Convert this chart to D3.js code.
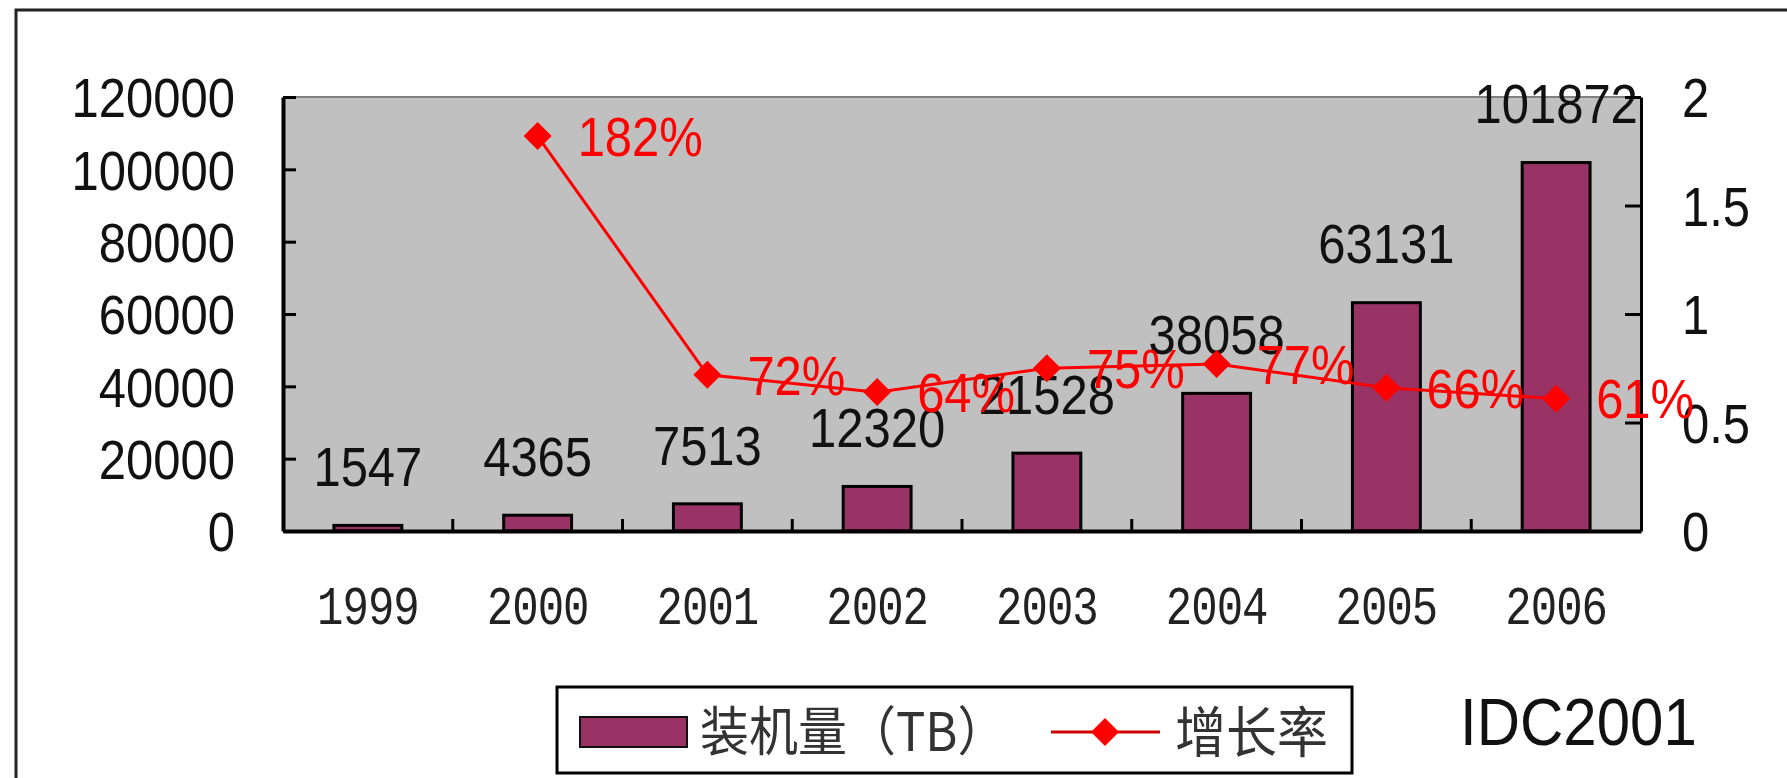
<!DOCTYPE html>
<html>
<head>
<meta charset="utf-8">
<script src="https://cdn.jsdelivr.net/npm/d3@7"></script>
<style>
  body { margin: 0; background: #fff; }
  svg { display: block; }
</style>
</head>
<body>
<svg id="svg1" width="1787" height="778"></svg>
<script>
// data
var years = ["1999", "2000", "2001", "2002", "2003", "2004", "2005", "2006"];
var installed = [1547, 4365, 7513, 12320, 21528, 38058, 63131, 101872];
var growth = [null, 1.82, 0.72, 0.64, 0.75, 0.77, 0.66, 0.61];
var leftTicks = [0, 20000, 40000, 60000, 80000, 100000, 120000];
var rightTicks = [0, 0.5, 1, 1.5, 2];
var legendBar = "装机量（TB）";
var legendLine = "增长率";
var source = "IDC2001";

var svg = d3.select("#svg1");

var plotLeft = 283, plotRight = 1641, plotTop = 97, plotBottom = 531;
var stretch = 1.12;   // the original text is a bit taller than wide
var sansFont = "'Liberation Sans', Arial, Helvetica, sans-serif";

var x = d3.scaleBand()
          .domain(years)
          .range([plotLeft, plotRight])
          .paddingInner(0.6)
          .paddingOuter(0.3);

var yL = d3.scaleLinear().domain([0, 120000]).range([plotBottom, plotTop]);
var yR = d3.scaleLinear().domain([0, 2]).range([plotBottom, plotTop]);

// outer frame
svg.append("rect")
    .attr("x", 16).attr("y", 10)
    .attr("width", 1820).attr("height", 820)
    .attr("fill", "none")
    .attr("stroke", "#222")
    .attr("stroke-width", 3);

// plot area
svg.append("rect")
    .attr("x", plotLeft).attr("y", plotTop)
    .attr("width", plotRight - plotLeft).attr("height", plotBottom - plotTop)
    .attr("fill", "#c0c0c0");

svg.append("line")
    .attr("x1", plotLeft).attr("x2", plotRight)
    .attr("y1", plotTop).attr("y2", plotTop)
    .attr("stroke", "#808080")
    .attr("stroke-width", 2);

// bars
svg.selectAll(".bar")
    .data(installed)
    .enter()
    .append("rect")
      .attr("class", "bar")
      .attr("x", function(d, i) { return x(years[i]); })
      .attr("width", x.bandwidth())
      .attr("y", function(d) { return yL(d); })
      .attr("height", function(d) { return plotBottom - yL(d); })
      .attr("fill", "#993366")
      .attr("stroke", "#000")
      .attr("stroke-width", 3);

// bar value labels
svg.selectAll(".bar-label")
    .data(installed)
    .enter()
    .append("text")
      .attr("class", "bar-label")
      .attr("transform", function(d, i) {
        return "translate(" + (x(years[i]) + x.bandwidth() / 2) + "," + (yL(d) - 59) + ") scale(1," + stretch + ")";
      })
      .attr("dy", "0.36em")
      .attr("text-anchor", "middle")
      .attr("font-family", sansFont)
      .attr("font-size", 49)
      .attr("fill", "#111")
      .text(function(d) { return d; });

// left axis
var axisL = svg.append("g")
    .attr("transform", "translate(" + plotLeft + ",0)")
    .call(d3.axisLeft(yL).tickValues(leftTicks).tickSize(-13).tickSizeOuter(0).tickPadding(48).tickFormat(function(d) { return d; }));

axisL.select(".domain").attr("stroke", "#000").attr("stroke-width", 4);
axisL.selectAll(".tick line").attr("stroke", "#000").attr("stroke-width", 3);
axisL.selectAll(".tick text")
    .attr("font-family", sansFont)
    .attr("font-size", 49)
    .attr("fill", "#111")
    .attr("dy", "0.36em")
    .attr("transform", "scale(1," + stretch + ")");

// right axis
var axisR = svg.append("g")
    .attr("transform", "translate(" + plotRight + ",0)")
    .call(d3.axisRight(yR).tickValues(rightTicks).tickSize(-16).tickSizeOuter(0).tickPadding(41).tickFormat(function(d) { return d; }));

axisR.select(".domain").attr("stroke", "#000").attr("stroke-width", 3);
axisR.selectAll(".tick line").attr("stroke", "#000").attr("stroke-width", 3);
axisR.selectAll(".tick text")
    .attr("font-family", sansFont)
    .attr("font-size", 49)
    .attr("fill", "#111")
    .attr("dy", "0.36em")
    .attr("transform", "scale(1," + stretch + ")");

// bottom axis, labels at the band centres
var axisB = svg.append("g")
    .attr("transform", "translate(0," + plotBottom + ")")
    .call(d3.axisBottom(x).tickSize(0).tickSizeOuter(0));

axisB.select(".domain").attr("stroke", "#000").attr("stroke-width", 4);
axisB.selectAll(".tick text")
    .attr("y", 0)
    .attr("dy", "0.36em")
    .attr("transform", "translate(0,74) scale(1,1.2)")
    .attr("font-family", "'Liberation Mono', 'Courier New', monospace")
    .attr("font-size", 44)
    .attr("letter-spacing", -1)
    .attr("fill", "#222");

// category separators on the bottom axis
svg.selectAll(".sep")
    .data(years.slice(1))
    .enter()
    .append("line")
      .attr("class", "sep")
      .attr("x1", function(d) { return x(d) - x.step() * x.paddingOuter(); })
      .attr("x2", function(d) { return x(d) - x.step() * x.paddingOuter(); })
      .attr("y1", plotBottom)
      .attr("y2", plotBottom - 12)
      .attr("stroke", "#000")
      .attr("stroke-width", 3);

// growth line
var rate = years.map(function(d, i) { return { year: d, v: growth[i] }; })
                .filter(function(d) { return d.v != null; });

var line = d3.line()
    .x(function(d) { return x(d.year) + x.bandwidth() / 2; })
    .y(function(d) { return yR(d.v); });

svg.append("path")
    .datum(rate)
    .attr("d", line)
    .attr("fill", "none")
    .attr("stroke", "#ff0000")
    .attr("stroke-width", 3);

var diamond = "M0,-14L14,0L0,14L-14,0Z";

svg.selectAll(".marker")
    .data(rate)
    .enter()
    .append("path")
      .attr("class", "marker")
      .attr("d", diamond)
      .attr("transform", function(d) {
        return "translate(" + (x(d.year) + x.bandwidth() / 2) + "," + yR(d.v) + ")";
      })
      .attr("fill", "#ff0000");

var pct = d3.format(".0%");

svg.selectAll(".rate-label")
    .data(rate)
    .enter()
    .append("text")
      .attr("class", "rate-label")
      .attr("transform", function(d) {
        return "translate(" + (x(d.year) + x.bandwidth() / 2 + 40) + "," + yR(d.v) + ") scale(1," + stretch + ")";
      })
      .attr("dy", "0.36em")
      .attr("font-family", sansFont)
      .attr("font-size", 49)
      .attr("fill", "#ff0000")
      .text(function(d) { return pct(d.v); });

// legend
var legend = svg.append("g");

legend.append("rect")
    .attr("x", 557).attr("y", 687)
    .attr("width", 795).attr("height", 86)
    .attr("fill", "#fff")
    .attr("stroke", "#000")
    .attr("stroke-width", 3);

legend.append("rect")
    .attr("x", 580).attr("y", 717)
    .attr("width", 107).attr("height", 30)
    .attr("fill", "#993366")
    .attr("stroke", "#111")
    .attr("stroke-width", 2);

legend.append("text")
    .attr("transform", "translate(700,732) scale(1,1.08)")
    .attr("dy", "0.36em")
    .attr("font-family", "'Noto Sans CJK SC', sans-serif")
    .attr("font-size", 49)
    .attr("fill", "#333")
    .text(legendBar);

legend.append("line")
    .attr("x1", 1051).attr("x2", 1160)
    .attr("y1", 732).attr("y2", 732)
    .attr("stroke", "#d00000")
    .attr("stroke-width", 3);

legend.append("path")
    .attr("d", diamond)
    .attr("transform", "translate(1105,732)")
    .attr("fill", "#ff0000");

legend.append("text")
    .attr("transform", "translate(1175,732) scale(1,1.08)")
    .attr("dy", "0.36em")
    .attr("font-family", "'Noto Sans CJK SC', sans-serif")
    .attr("font-size", 51)
    .attr("fill", "#333")
    .text(legendLine);

// source note
svg.append("text")
    .attr("transform", "translate(1460,721) scale(1," + stretch + ")")
    .attr("dy", "0.36em")
    .attr("font-family", sansFont)
    .attr("font-size", 60)
    .attr("fill", "#111")
    .text(source);
</script>
</body>
</html>
